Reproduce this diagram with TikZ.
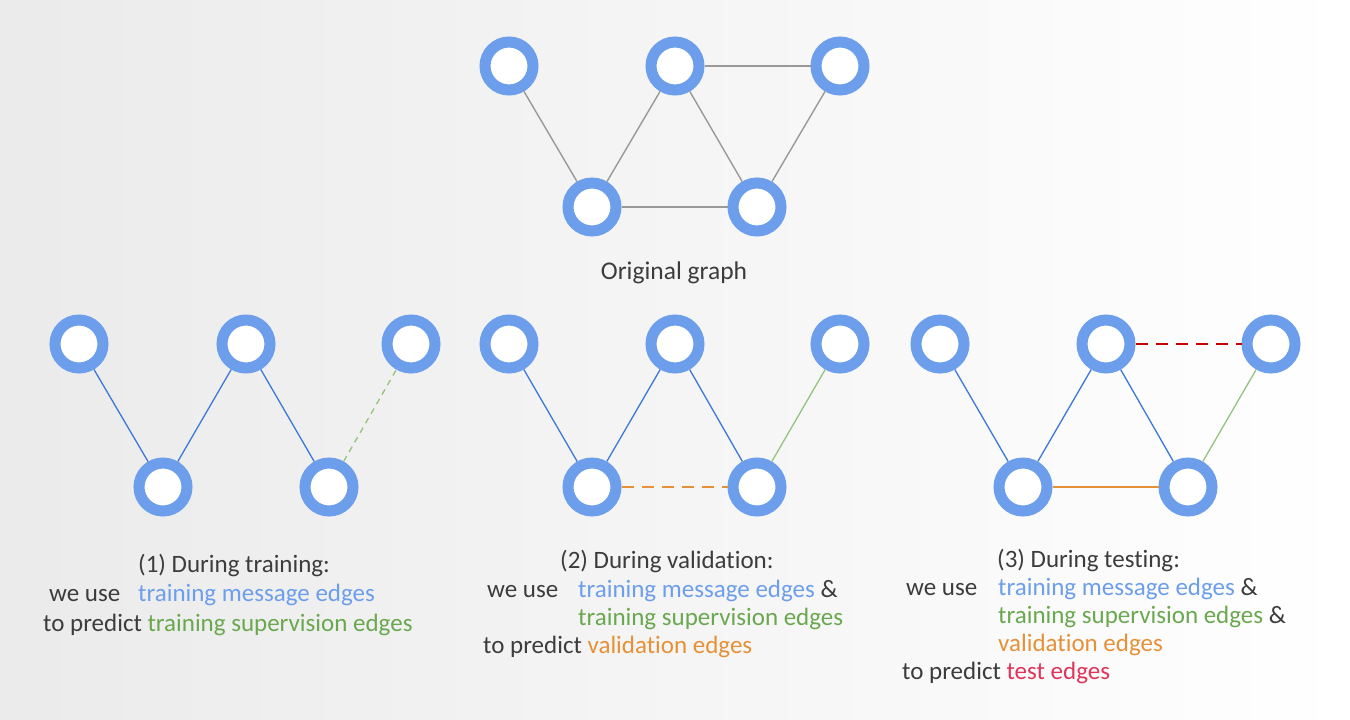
\documentclass[tikz,border=0pt]{standalone}
\usepackage{fontspec}
\setmainfont[Ligatures=NoCommon]{Carlito}
\usepackage{tikz}
\usetikzlibrary{arrows.meta}

\definecolor{ringblue}{HTML}{6D9EEB}
\definecolor{msgblue}{HTML}{3C78D8}
\definecolor{supgreen}{HTML}{93C47D}
\definecolor{supgreentext}{HTML}{6AA84F}
\definecolor{valorange}{HTML}{E69138}
\definecolor{testred}{HTML}{CC0000}
\definecolor{testredtext}{HTML}{E0345A}
\definecolor{darktext}{HTML}{3C3C3C}

\begin{document}
\begin{tikzpicture}[x=1pt, y=-1pt,
    vertex/.style={circle, draw=ringblue, line width=11pt, fill=white,
      minimum size=48pt, inner sep=0pt, outer sep=5.5pt},
    orig/.style={draw=black!40, line width=1.4pt},
    msg/.style={draw=msgblue, line width=1.3pt},
    sup/.style={draw=supgreen, line width=1.3pt},
    val/.style={draw=valorange, line width=1.3pt},
    tst/.style={draw=testred, line width=1.6pt, dash pattern=on 12pt off 8pt},
    caption/.style={anchor=base, text=darktext, font=\fontsize{25.5}{30}\selectfont},
    txt/.style={anchor=base west, text=darktext, inner sep=0pt, font=\fontsize{25}{30}\selectfont}]
  % background
  \shade[left color=black!8, right color=white] (0,0) rectangle (1350,720);

  % original graph
  \node[vertex] (oa) at (509,66) {};
  \node[vertex] (ob) at (675,66) {};
  \node[vertex] (oc) at (840,66) {};
  \node[vertex] (od) at (592,207) {};
  \node[vertex] (oe) at (757,207) {};
  \draw[orig] (oa) -- (od) -- (ob) -- (oe) -- (oc);
  \draw[orig] (ob) -- (oc);
  \draw[orig] (od) -- (oe);
  \node[caption] (otitle) at (674,279) {Original graph};

  % (1) training
  \node[vertex] (ta) at (79,344) {};
  \node[vertex] (tb) at (246,344) {};
  \node[vertex] (tc) at (411,344) {};
  \node[vertex] (td) at (163,487) {};
  \node[vertex] (te) at (329,487) {};
  \draw[msg] (ta) -- (td) -- (tb) -- (te);
  \draw[sup, dash pattern=on 6pt off 5pt] (te) -- (tc);
  \node[txt] (ttitle) at (138,572) {(1) During training:};
  \node[txt] (tuse) at (49,601) {we use};
  \node[txt, text=ringblue] (tmsg) at (138,601) {training message edges};
  \node[txt] (tpred) at (43,631) {to predict \textcolor{supgreentext}{training supervision edges}};

  % (2) validation
  \node[vertex] (va) at (509,344) {};
  \node[vertex] (vb) at (675,344) {};
  \node[vertex] (vc) at (840,344) {};
  \node[vertex] (vd) at (592,487) {};
  \node[vertex] (ve) at (757,487) {};
  \draw[msg] (va) -- (vd) -- (vb) -- (ve);
  \draw[sup] (ve) -- (vc);
  \draw[val, dash pattern=on 12pt off 8pt] (vd) -- (ve);
  \node[txt] (vtitle) at (560,568) {(2) During validation:};
  \node[txt] (vuse) at (487,597) {we use};
  \node[txt] (vmsg) at (578,597) {\textcolor{ringblue}{training message edges} \&};
  \node[txt, text=supgreentext] (vsup) at (578,625) {training supervision edges};
  \node[txt] (vpred) at (483,653) {to predict \textcolor{valorange}{validation edges}};

  % (3) testing
  \node[vertex] (sa) at (940,344) {};
  \node[vertex] (sb) at (1106,344) {};
  \node[vertex] (sc) at (1271,344) {};
  \node[vertex] (sd) at (1023,487) {};
  \node[vertex] (se) at (1188,487) {};
  \draw[msg] (sa) -- (sd) -- (sb) -- (se);
  \draw[sup] (se) -- (sc);
  \draw[val] (sd) -- (se);
  \draw[tst] (sb) -- (sc);
  \node[txt] (stitle) at (997,567) {(3) During testing:};
  \node[txt] (suse) at (906,595) {we use};
  \node[txt] (smsg) at (998,595) {\textcolor{ringblue}{training message edges} \&};
  \node[txt] (ssup) at (998,623) {\textcolor{supgreentext}{training supervision edges} \&};
  \node[txt, text=valorange] (sval) at (998,651) {validation edges};
  \node[txt] (spred) at (902,679) {to predict \textcolor{testredtext}{test edges}};
\end{tikzpicture}
\end{document}
